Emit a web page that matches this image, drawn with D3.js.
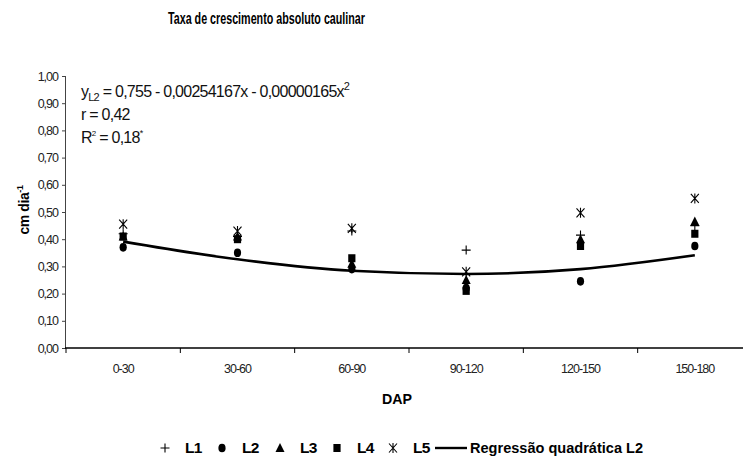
<!DOCTYPE html>
<html>
<head>
<meta charset="utf-8">
<script src="https://cdn.jsdelivr.net/npm/d3@7"></script>
<style>
body { margin: 0; background: #fff; }
svg { display: block; font-family: "Liberation Sans", Arial, sans-serif; }
</style>
</head>
<body>
<svg id="chart" width="743" height="457"></svg>
<script>
// classes de DAP
var categories = ["0-30", "30-60", "60-90", "90-120", "120-150", "150-180"];

// taxa de crescimento (cm dia-1) por linhagem
var L1 = [0.42, 0.41, 0.43, 0.36, 0.415, 0.45];
var L2 = [0.37, 0.35, 0.29, 0.22, 0.245, 0.375];
var L3 = [0.41, 0.41, 0.31, 0.25, 0.40, 0.465];
var L4 = [0.41, 0.40, 0.33, 0.21, 0.375, 0.42];
var L5 = [0.455, 0.43, 0.44, 0.28, 0.497, 0.55];
var regL2 = [0.391, 0.326, 0.284, 0.272, 0.290, 0.341];

var yTicks = [0, 0.1, 0.2, 0.3, 0.4, 0.5, 0.6, 0.7, 0.8, 0.9, 1.0];

var svg = d3.select("#chart");

var x = d3.scaleBand().domain(categories).range([66, 752]);
var y = d3.scaleLinear().domain([0, 1]).range([348, 76]);
var cx = function(i) { return x(categories[i]) + x.bandwidth() / 2; };
var fmt = function(v) { return d3.format(".2f")(v).replace(".", ","); };

// eixo y
var yAxis = svg.append("g")
    .attr("transform", "translate(66,0)")
    .call(d3.axisLeft(y).tickValues(yTicks).tickFormat(fmt).tickSize(4).tickPadding(4));
yAxis.select(".domain").attr("stroke", "#444").attr("d", "M-0.5," + y(1) + "V" + y(0));
yAxis.selectAll(".tick line").attr("stroke", "#444");
yAxis.selectAll("text").attr("font-size", 12.5).attr("letter-spacing", -1).attr("fill", "#222")
    .attr("font-family", "Liberation Sans, Arial, sans-serif");

// eixo x
var xAxis = svg.append("g")
    .attr("transform", "translate(0,348)");
xAxis.append("line").attr("x1", 65).attr("x2", 752).attr("stroke", "#000").attr("stroke-width", 1.3);
xAxis.selectAll("line.tk")
    .data(categories)
  .enter().append("line")
    .attr("class", "tk")
    .attr("x1", function(d) { return x(d); })
    .attr("x2", function(d) { return x(d); })
    .attr("y1", 0).attr("y2", 5)
    .attr("stroke", "#000");
xAxis.selectAll("text")
    .data(categories)
  .enter().append("text")
    .attr("x", function(d) { return x(d) + x.bandwidth() / 2; })
    .attr("y", 25)
    .attr("text-anchor", "middle")
    .attr("font-size", 12.5)
    .attr("letter-spacing", -1)
    .attr("fill", "#222")
    .text(function(d) { return d; });

// titulo e rotulos
svg.append("text").attr("x", 168).attr("y", 24)
    .attr("font-size", 16).attr("font-weight", "bold")
    .attr("textLength", 197).attr("lengthAdjust", "spacingAndGlyphs")
    .text("Taxa de crescimento absoluto caulinar");

svg.append("text").attr("x", 382).attr("y", 404)
    .attr("font-size", 15).attr("font-weight", "bold")
    .attr("textLength", 30).attr("lengthAdjust", "spacingAndGlyphs")
    .text("DAP");

var yl = svg.append("text").attr("transform", "translate(29,210) rotate(-90)")
    .attr("text-anchor", "middle").attr("font-size", 14).attr("font-weight", "bold")
    .attr("letter-spacing", -0.4);
yl.append("tspan").text("cm dia");
yl.append("tspan").attr("dy", -6).attr("font-size", 9).text("-1");

// equacao
var eq = svg.append("g").attr("font-size", 16).attr("letter-spacing", -0.75).attr("fill", "#111");
var t1 = eq.append("text").attr("x", 81).attr("y", 97);
t1.append("tspan").text("y");
t1.append("tspan").attr("dy", 4).attr("font-size", 11).text("L2");
t1.append("tspan").attr("dy", -4).text(" = 0,755 - 0,00254167x - 0,00000165x");
t1.append("tspan").attr("dy", -7).attr("font-size", 11).text("2");
eq.append("text").attr("x", 81).attr("y", 120).text("r = 0,42");
var t3 = eq.append("text").attr("x", 81).attr("y", 143);
t3.append("tspan").text("R");
t3.append("tspan").attr("dy", -7).attr("font-size", 8).text("2");
t3.append("tspan").attr("dy", 7).text(" = 0,18");
t3.append("tspan").attr("dy", -7).attr("font-size", 9).text("*");

// regressao
var line = d3.line()
    .x(function(d, i) { return cx(i); })
    .y(function(d) { return y(d); })
    .curve(d3.curveMonotoneX);
svg.append("path").datum(regL2).attr("d", line)
    .attr("fill", "none").attr("stroke", "#000").attr("stroke-width", 2.6);

// simbolos
var plus = function(g) {
    g.append("path").attr("d", "M-4.5,0H4.5M0,-4.5V4.5").attr("stroke", "#000").attr("stroke-width", 1.1).attr("fill", "none");
};
var dot = function(g) {
    g.append("ellipse").attr("rx", 3.6).attr("ry", 4.3).attr("fill", "#000");
};
var tri = function(g) {
    g.append("path").attr("d", "M0,-5L4.5,4L-4.5,4Z").attr("fill", "#000");
};
var sq = function(g) {
    g.append("rect").attr("x", -3.6).attr("y", -4).attr("width", 7.2).attr("height", 8).attr("fill", "#000");
};
var star = function(g) {
    g.append("path").attr("d", "M-4,-4.5L4,4.5M4,-4.5L-4,4.5M0,-5V5")
        .attr("stroke", "#000").attr("stroke-width", 1.1).attr("fill", "none");
};

var series = [
    { name: "L1", values: L1, sym: plus },
    { name: "L2", values: L2, sym: dot },
    { name: "L3", values: L3, sym: tri },
    { name: "L4", values: L4, sym: sq },
    { name: "L5", values: L5, sym: star }
];

series.forEach(function(s) {
    s.values.forEach(function(v, i) {
        var g = svg.append("g").attr("transform", "translate(" + cx(i) + "," + y(v) + ")");
        s.sym(g);
    });
});

// legenda
var legX = [165, 222, 280, 337, 393];
var leg = svg.append("g").attr("transform", "translate(0,448)");
series.forEach(function(s, i) {
    var g = leg.append("g").attr("transform", "translate(" + legX[i] + ",0)");
    s.sym(g);
    leg.append("text").attr("x", legX[i] + 20).attr("y", 5)
        .attr("font-size", 15.5).attr("font-weight", "bold").attr("letter-spacing", -0.8)
        .text(s.name);
});
leg.append("line").attr("x1", 435).attr("x2", 467).attr("y1", 0).attr("y2", 0)
    .attr("stroke", "#000").attr("stroke-width", 2.4);
leg.append("text").attr("x", 470).attr("y", 5)
    .attr("font-size", 15.5).attr("font-weight", "bold")
    .attr("textLength", 173).attr("lengthAdjust", "spacingAndGlyphs")
    .text("Regressão quadrática L2");
</script>
</body>
</html>
